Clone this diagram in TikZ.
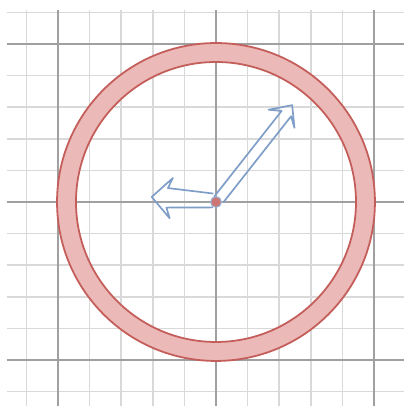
\documentclass[tikz,border=0pt]{standalone}
\usetikzlibrary{positioning}
\definecolor{gridminor}{HTML}{D9D9D9}
\definecolor{gridmajor}{HTML}{A0A0A0}
\definecolor{ringred}{HTML}{C45E5B}
\definecolor{ringfill}{HTML}{EBB9B7}
\definecolor{handblue}{HTML}{7E9DC8}
\tikzstyle{minor}=[draw=gridminor,line width=1.4pt]
\tikzstyle{major}=[draw=gridmajor,line width=1.2pt]
\tikzstyle{rim}=[draw=ringred,line width=1.6pt]
\tikzstyle{hand}=[draw=handblue,line width=1.5pt,line join=round,line cap=round]
\tikzstyle{pivot}=[draw=handblue!80,fill=ringred!85,line width=1pt]

\begin{document}
\begin{tikzpicture}
\useasboundingbox[fill=white] (-6.835,-6.456) rectangle (5.949,6.392);
\foreach \x in {-6,-4,-3,-2,-1,1,2,3,4}
  \draw[minor] (\x,-6.456) -- (\x,6.08);
\foreach \y in {-6,-4,-3,-2,-1,1,2,3,4,6}
  \draw[minor] (-6.62,\y) -- (5.949,\y);
\foreach \x in {-5,0,5}
  \draw[major] (\x,-6.456) -- (\x,6.08);
\foreach \y in {-5,0,5}
  \draw[major] (-6.62,\y) -- (5.949,\y);
\coordinate (hub) at (0,0);
\fill[ringfill,even odd rule] (hub) circle (5.03) (hub) circle (4.43);
\draw[rim] (hub) circle (5.03) (hub) circle (4.43);
\begin{scope}[rotate=51.8]
\draw[hand] (0.1,0.15) -- (3.55,0.15) -- (3.32,0.5) -- (3.9,0) -- (3.38,-0.5) -- (3.6,-0.19) -- (0.15,-0.19);
\end{scope}
\begin{scope}[rotate=175.5]
\draw[hand] (0.1,0.18) -- (1.55,0.3) -- (1.42,0.63) -- (2.04,0) -- (1.42,-0.65) -- (1.55,-0.32) -- (0.12,-0.26);
\end{scope}
\draw[pivot] (hub) circle (0.17);
\end{tikzpicture}
\end{document}
